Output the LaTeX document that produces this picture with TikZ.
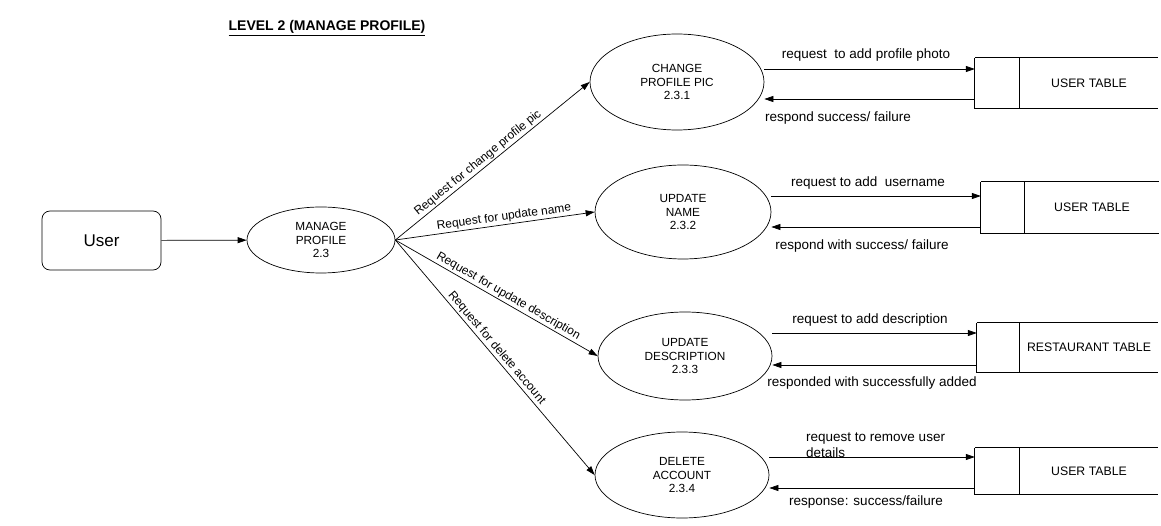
\documentclass[tikz,border=0pt]{standalone}
\usepackage{fontspec}
\setmainfont{Liberation Sans}
\usetikzlibrary{shapes.geometric,arrows.meta}
\begin{document}
\begin{tikzpicture}[x=1pt,y=-1pt,
  proc/.style={draw,ellipse,inner sep=0pt,align=center,font=\fontsize{11.8}{13.8}\selectfont,line width=0.7pt},
  flow/.style={-{Triangle[length=9pt,width=6pt]},line width=0.7pt},
  lbl/.style={font=\fontsize{13.5}{16}\selectfont,inner sep=0pt},
  rlbl/.style={font=\fontsize{12}{14}\selectfont,inner sep=1.5pt,sloped},
  storetext/.style={inner sep=0pt,font=\fontsize{12.3}{14}\selectfont},
  storeline/.style={line width=0.9pt}]
\useasboundingbox[fill=white] (0,0) rectangle (1161,526);

\node[font=\bfseries\fontsize{14}{16}\selectfont] (title) at (327,28) {\underline{LEVEL 2 (MANAGE PROFILE)}};

\node[draw,rounded corners=8pt,minimum width=119pt,minimum height=59pt,line width=0.7pt,font=\fontsize{17}{20}\selectfont] (user) at (101.5,240.5) {User};

\node[proc,minimum width=148pt,minimum height=66pt] (mp) at (321,240) {MANAGE\\PROFILE\\2.3};
\node[proc,minimum width=174pt,minimum height=96pt] (ch) at (677,82) {CHANGE\\PROFILE PIC\\2.3.1};
\node[proc,minimum width=176pt,minimum height=94pt] (un) at (683,212) {UPDATE\\NAME\\2.3.2};
\node[proc,minimum width=174pt,minimum height=88pt] (ud) at (685,356) {UPDATE\\DESCRIPTION\\2.3.3};
\node[proc,minimum width=174pt,minimum height=86pt] (da) at (682,475) {DELETE\\ACCOUNT\\2.3.4};

% stores
\node[storetext,minimum width=138pt,minimum height=50pt] (s1) at (1089,83) {USER TABLE};
\node[storetext,minimum width=134pt,minimum height=51pt] (s2) at (1092,207.5) {USER TABLE};
\node[storetext,minimum width=138pt,minimum height=49pt] (s3) at (1089,347.5) {RESTAURANT TABLE};
\node[storetext,minimum width=138pt,minimum height=46pt] (s4) at (1089,471) {USER TABLE};

\foreach \s/\d in {s1/45,s2/44,s3/43,s4/45}{
  \draw[storeline] ([xshift=-\d pt]\s.north west) -- (\s.north east);
  \draw[storeline] ([xshift=-\d pt]\s.north west) -- ([xshift=-\d pt]\s.south west) -- (\s.south east);
  \draw[storeline] (\s.north west) -- (\s.south west);
}
\coordinate (s1l) at ([xshift=-45pt]s1.west);
\coordinate (s2l) at ([xshift=-44pt]s2.west);
\coordinate (s3l) at ([xshift=-43pt]s3.west);
\coordinate (s4l) at ([xshift=-45pt]s4.west);

% user to manage profile
\draw[flow] (user) -- (mp);

% manage profile to processes
\draw[flow] (mp.east) -- node[rlbl,above,pos=0.45]{Request for change profile pic} (ch.west);
\draw[flow] (mp.east) -- node[rlbl,above,pos=0.55]{Request for update name} (un.west);
\draw[flow] (mp.east) -- node[rlbl,above,pos=0.54]{Request for update description} (ud.west);
\draw[flow] (mp.east) -- node[rlbl,above,pos=0.48]{Request for delete account} (da.west);

% flows to / from stores
\coordinate (o1) at ([yshift=13pt]ch.east);
\coordinate (r1) at ([yshift=-17pt]ch.east);
\draw[flow] (o1) -- (o1 -| s1l);
\draw[flow] (r1 -| s1l) -- (r1);
\coordinate (o2) at ([yshift=16pt]un.east);
\coordinate (r2) at ([yshift=-15pt]un.east);
\draw[flow] (o2) -- (o2 -| s2l);
\draw[flow] (r2 -| s2l) -- (r2);
\coordinate (o3) at ([yshift=23pt]ud.east);
\coordinate (r3) at ([yshift=-9pt]ud.east);
\draw[flow] (o3) -- (o3 -| s3l);
\draw[flow] (r3 -| s3l) -- (r3);
\coordinate (o4) at ([yshift=18pt]da.east);
\coordinate (r4) at ([yshift=-13pt]da.east);
\draw[flow] (o4) -- (o4 -| s4l);
\draw[flow] (r4 -| s4l) -- (r4);

% flow labels
\node[lbl] (l1a) at (866,55) {request \ to add profile photo};
\node[lbl] (l1b) at (838,118) {respond success/ failure};
\node[lbl] (l2a) at (868,183) {request to add \ username};
\node[lbl] (l2b) at (862,246) {respond with success/ failure};
\node[lbl] (l3a) at (870,320) {request to add description};
\node[lbl] (l3b) at (872,383) {responded with successfully added};
\node[lbl,align=left,anchor=west] (l4a) at (806,445) {request to remove user\\details};
\node[lbl] (l4b) at (866,502) {response: success/failure};
\end{tikzpicture}
\end{document}
